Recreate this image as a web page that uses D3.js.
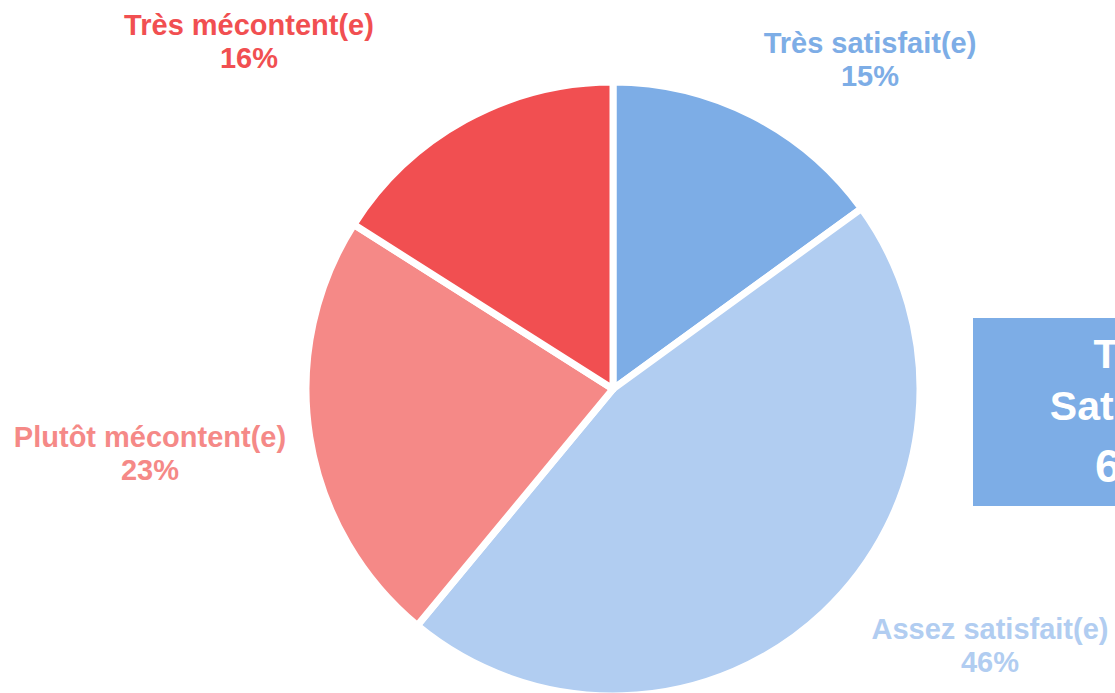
<!DOCTYPE html>
<html>
<head>
<meta charset="utf-8">
<script src="https://cdn.jsdelivr.net/npm/d3@7"></script>
<style>
  body { margin: 0; background: #fff; overflow: hidden; }
  svg { display: block; font-family: "Liberation Sans", Arial, sans-serif; font-weight: bold; }
</style>
</head>
<body>
<svg id="pie" width="1115" height="693"></svg>
<script>
// satisfaction shares, clockwise from 12 o'clock
var categories = ["Très satisfait(e)", "Assez satisfait(e)", "Plutôt mécontent(e)", "Très mécontent(e)"];
var values = [15, 46, 23, 16];
var colors = ["#7dade6", "#b1cdf1", "#f58987", "#f14f51"];
var totalLines = ["Total", "Satisfaits", "61%"];

// where each outside label sits (centre x, baseline of first line)
var labelPos = [[870, 53], [990, 639], [150, 447], [249, 35]];

var width = 1115, height = 693,
    cx = 613, cy = 389, radius = 307;

var svg = d3.select("#pie");

var pie = d3.pie()
  .sort(null)
  .value(function(d) { return d; });

var arc = d3.arc()
  .innerRadius(0)
  .outerRadius(radius);

var g = svg.append("g")
  .attr("transform", "translate(" + cx + "," + cy + ")");

g.selectAll("path")
  .data(pie(values))
  .enter().append("path")
  .attr("d", arc)
  .attr("fill", function(d, i) { return colors[i]; })
  .attr("stroke", "#fff")
  .attr("stroke-width", 7)
  .attr("stroke-linejoin", "round");

// labels
var labels = svg.selectAll("text.lbl")
  .data(categories)
  .enter().append("text")
  .attr("class", "lbl")
  .attr("text-anchor", "middle")
  .attr("font-size", 29)
  .attr("fill", function(d, i) { return colors[i]; })
  .attr("transform", function(d, i) { return "translate(" + labelPos[i][0] + "," + labelPos[i][1] + ")"; });

labels.append("tspan")
  .attr("x", 0)
  .text(function(d) { return d; });
labels.append("tspan")
  .attr("x", 0)
  .attr("dy", 33)
  .text(function(d, i) { return values[i] + "%"; });

// total box on the right, runs off the edge
var box = svg.append("g")
  .attr("transform", "translate(973,318)");

box.append("rect")
  .attr("width", 336)
  .attr("height", 188)
  .attr("fill", colors[0]);

box.selectAll("text")
  .data(totalLines)
  .enter().append("text")
  .attr("x", 168)
  .attr("y", function(d, i) { return [50, 102, 164][i]; })
  .attr("text-anchor", "middle")
  .attr("fill", "#fff")
  .attr("font-size", function(d, i) { return i == 2 ? 46 : 41; })
  .text(function(d) { return d; });
</script>
</body>
</html>
